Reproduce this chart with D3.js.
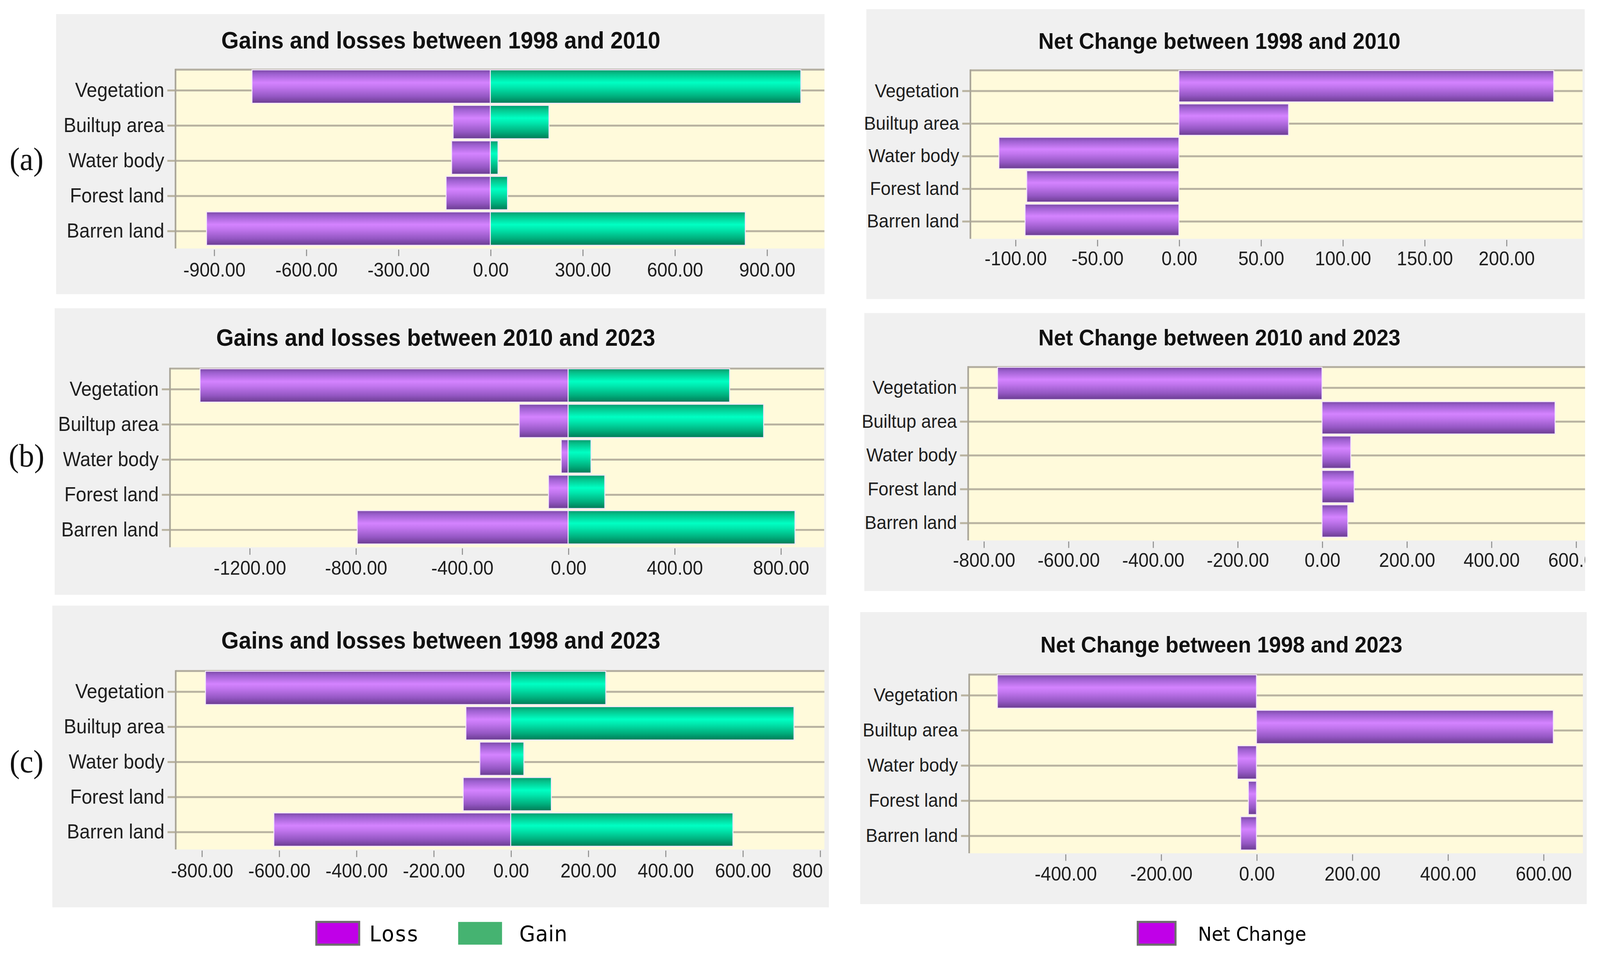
<!DOCTYPE html>
<html>
<head>
<meta charset="utf-8">
<script src="https://cdn.jsdelivr.net/npm/d3@7"></script>
<style>
  html, body { margin: 0; width: 100%; height: 100%; overflow: hidden; background: #fff; }
  #chart, svg { display: block; width: 100vw; height: 100vh; }
</style>
</head>
<body>
<div id="chart"></div>
<script>
// data
const categories = ["Vegetation", "Builtup area", "Water body", "Forest land", "Barren land"];

const loss9810 = [-776, -121, -126, -144, -924];
const gain9810 = [1011, 191, 25, 56, 830];
const loss1023 = [-1386, -184, -26, -74, -794];
const gain1023 = [608, 736, 86, 138, 854];
const loss9823 = [-790, -116, -80, -123, -613];
const gain9823 = [246, 733, 34, 105, 575];

const net9810 = [229, 67, -110, -93, -94];
const net1023 = [-767, 551, 68, 76, 61];
const net9823 = [-542, 621, -40, -17, -33];

const ticksGL9810 = [-900, -600, -300, 0, 300, 600, 900];
const ticksGL1023 = [-1200, -800, -400, 0, 400, 800];
const ticksGL9823 = [-800, -600, -400, -200, 0, 200, 400, 600, 800];
const ticksNet9810 = [-100, -50, 0, 50, 100, 150, 200];
const ticksNet1023 = [-800, -600, -400, -200, 0, 200, 400, 600];
const ticksNet9823 = [-400, -200, 0, 200, 400, 600];

const titles = [
  "Gains and losses between 1998 and 2010",
  "Gains and losses between 2010 and 2023",
  "Gains and losses between 1998 and 2023",
  "Net Change between 1998 and 2010",
  "Net Change between 2010 and 2023",
  "Net Change between 1998 and 2023"
];
const panelLetters = ["(a)", "(b)", "(c)"];

// layout (in a 1568 x 884 frame, stretched to fill the window)
const W = 1568, H = 884;
const svg = d3.select("#chart").append("svg")
  .attr("viewBox", `0 0 ${W} ${H}`)
  .attr("preserveAspectRatio", "none");

const defs = svg.append("defs");
const addGrad = (id, stops) => {
  const g = defs.append("linearGradient").attr("id", id)
    .attr("x1", 0).attr("y1", 0).attr("x2", 0).attr("y2", 1);
  stops.forEach(s => g.append("stop").attr("offset", s[0]).attr("stop-color", s[1]));
};
addGrad("purpleGrad", [[0, "#7b49a6"], [0.12, "#9d60cf"], [0.38, "#d483ff"], [0.52, "#c276ef"], [0.8, "#9457c3"], [1, "#6a3c90"]]);
addGrad("greenGrad", [[0, "#019a6d"], [0.12, "#05c28b"], [0.38, "#00ffc3"], [0.52, "#00e8ae"], [0.8, "#00ae7c"], [1, "#007b56"]]);

const panels = [
  {bg: [55, 13, 753, 259], plot: {l: 172, t: 63.6, r: 808, b: 229.8}, dom: [-1025, 1088], titleX: 432, titleY: 37, tickY: 249.5, fs: 18.5, ts: 22},
  {bg: [53.6, 285, 756, 265], plot: {l: 166.6, t: 340, r: 807.7, b: 506}, dom: [-1499, 964], titleX: 427, titleY: 312, tickY: 525, fs: 18.5, ts: 22},
  {bg: [51.3, 560, 761, 279], plot: {l: 172.2, t: 619.7, r: 808, b: 785.5}, dom: [-867, 812], titleX: 432, titleY: 592, tickY: 805, fs: 18.5, ts: 22},
  {bg: [849, 8.5, 704, 268], plot: {l: 951, t: 64.2, r: 1551, b: 220.8}, dom: [-127.4, 246.7], titleX: 1195, titleY: 38, tickY: 239, fs: 17.5, ts: 21},
  {bg: [847, 289.5, 706.4, 257], plot: {l: 948.8, t: 338.6, r: 1553.4, b: 499.7}, dom: [-836.5, 622], titleX: 1195, titleY: 312, tickY: 518, fs: 17.5, ts: 21},
  {bg: [843, 566, 712, 270], plot: {l: 949.8, t: 623, r: 1551.3, b: 789}, dom: [-601, 683], titleX: 1197, titleY: 596, tickY: 808, fs: 17.5, ts: 21}
];

const drawPanel = (idx, seriesList, ticks) => {
  const p = panels[idx], pl = p.plot;
  const g = svg.append("g");
  g.append("rect").attr("x", p.bg[0]).attr("y", p.bg[1])
    .attr("width", p.bg[2]).attr("height", p.bg[3]).attr("fill", "#f0f0f0");

  // clip only at the right edge, like the cropped originals
  const clipId = "clip" + idx;
  defs.append("clipPath").attr("id", clipId).append("rect")
    .attr("x", p.bg[0] - 30).attr("y", p.bg[1])
    .attr("width", pl.r - p.bg[0] + 30).attr("height", p.bg[3]);
  const c = g.append("g").attr("clip-path", `url(#${clipId})`);

  const x = d3.scaleLinear().domain(p.dom).range([pl.l, pl.r]);
  const yBand = d3.scaleBand().domain(categories).range([pl.t + 1, pl.b - 3]).paddingInner(0.06);
  const yGrid = d3.scalePoint().domain(categories).range([pl.t + 19.5, pl.b - 16.5]);

  c.append("rect").attr("x", pl.l).attr("y", pl.t)
    .attr("width", pl.r - pl.l).attr("height", pl.b - pl.t).attr("fill", "#fffadb");
  c.append("line").attr("x1", pl.l).attr("x2", pl.r).attr("y1", pl.t + 0.8).attr("y2", pl.t + 0.8)
    .attr("stroke", "#b5b0a2").attr("stroke-width", 1.8);

  // y axis with gridlines
  const yAxis = c.append("g").attr("transform", `translate(${pl.l},0)`)
    .call(d3.axisLeft(yGrid).tickSize(-(pl.r - pl.l)).tickPadding(11));
  yAxis.select(".domain").remove();
  yAxis.selectAll(".tick line").attr("x1", -8)
    .attr("stroke", "#b9b3a1").attr("stroke-width", 1.8);
  yAxis.selectAll(".tick text")
    .attr("font-family", "'Liberation Sans', Arial, sans-serif")
    .attr("font-size", p.fs).attr("fill", "#1e1e1e");

  c.append("line").attr("x1", pl.l).attr("x2", pl.l).attr("y1", pl.t).attr("y2", pl.b)
    .attr("stroke", "#a9a598").attr("stroke-width", 1.6);

  // bars
  seriesList.forEach(s => {
    c.selectAll(null).data(s.values).enter().append("rect")
      .attr("x", d => x(Math.min(0, d)))
      .attr("width", d => Math.abs(x(d) - x(0)))
      .attr("y", (d, i) => yBand(categories[i]))
      .attr("height", yBand.bandwidth())
      .attr("fill", s.fill)
      .attr("stroke", "#f4e6fb").attr("stroke-width", 0.9);
  });

  // x axis
  const xAxis = c.append("g").attr("transform", `translate(0,${pl.b + 1})`)
    .call(d3.axisBottom(x).tickValues(ticks).tickSize(6).tickPadding(6)
      .tickFormat(d => d.toFixed(2)));
  xAxis.select(".domain").remove();
  xAxis.selectAll(".tick line").attr("stroke", "#8e8e8e").attr("stroke-width", 1);
  xAxis.selectAll(".tick text").attr("y", null).attr("dy", null)
    .attr("transform", `translate(0,${p.tickY - pl.b - 1})`)
    .attr("dominant-baseline", "central")
    .attr("font-family", "'Liberation Sans', Arial, sans-serif")
    .attr("font-size", 18).attr("fill", "#1e1e1e");

  g.append("text").attr("x", p.titleX).attr("y", p.titleY)
    .attr("text-anchor", "middle").attr("dominant-baseline", "central")
    .attr("font-family", "'Liberation Sans', Arial, sans-serif")
    .attr("font-weight", "bold").attr("font-size", p.ts).attr("fill", "#111")
    .text(titles[idx]);
};

drawPanel(0, [{values: loss9810, fill: "url(#purpleGrad)"}, {values: gain9810, fill: "url(#greenGrad)"}], ticksGL9810);
drawPanel(1, [{values: loss1023, fill: "url(#purpleGrad)"}, {values: gain1023, fill: "url(#greenGrad)"}], ticksGL1023);
drawPanel(2, [{values: loss9823, fill: "url(#purpleGrad)"}, {values: gain9823, fill: "url(#greenGrad)"}], ticksGL9823);
drawPanel(3, [{values: net9810, fill: "url(#purpleGrad)"}], ticksNet9810);
drawPanel(4, [{values: net1023, fill: "url(#purpleGrad)"}], ticksNet1023);
drawPanel(5, [{values: net9823, fill: "url(#purpleGrad)"}], ticksNet9823);

// panel letters
const letterY = [147, 421, 704];
panelLetters.forEach((t, i) => {
  svg.append("text").attr("x", 26).attr("y", letterY[i])
    .attr("text-anchor", "middle").attr("dominant-baseline", "central")
    .attr("font-family", "'Liberation Serif', 'Times New Roman', serif")
    .attr("font-size", 30).attr("fill", "#111").text(t);
});

// legends
const legendItems = [
  {label: "Loss", fill: "#c000e8", border: true, x: 310, w: 42, tx: 362, size: 20, ls: 1.2},
  {label: "Gain", fill: "#45b371", border: false, x: 449, w: 43, tx: 509, size: 20, ls: 0.3},
  {label: "Net Change", fill: "#c000e8", border: true, x: 1115, w: 37, tx: 1174, size: 18, ls: 0}
];
const lg = svg.append("g");
legendItems.forEach(it => {
  lg.append("rect").attr("x", it.x).attr("y", 852.5).attr("width", it.w).attr("height", 21)
    .attr("fill", it.fill)
    .attr("stroke", it.border ? "#6e6e6e" : "none").attr("stroke-width", 2);
  lg.append("text").attr("x", it.tx).attr("y", 863.5)
    .attr("dominant-baseline", "central")
    .attr("font-family", "'DejaVu Sans', Verdana, sans-serif")
    .attr("font-size", it.size).attr("letter-spacing", it.ls).attr("fill", "#000")
    .text(it.label);
});
</script>
</body>
</html>
